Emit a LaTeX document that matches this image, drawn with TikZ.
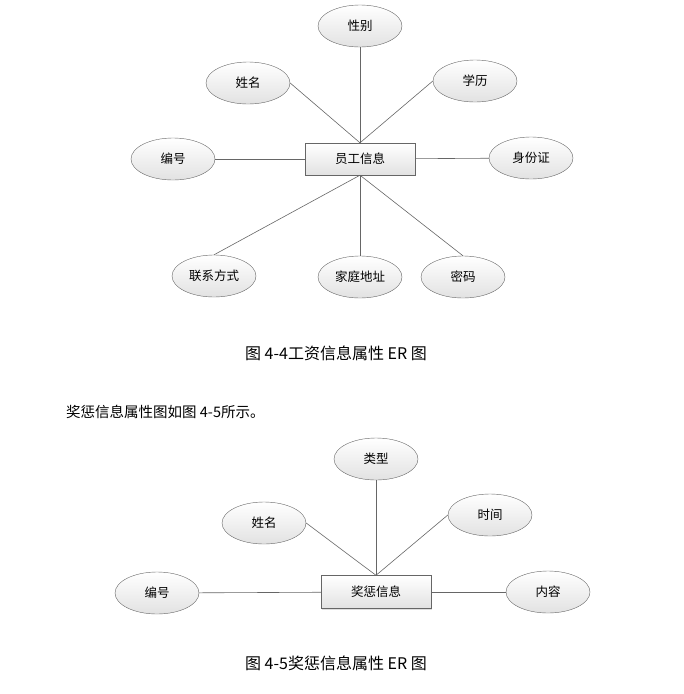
\documentclass[tikz,border=0pt]{standalone}
\usepackage{fontspec}
\setmainfont{Noto Sans CJK SC}
\usepackage{tikz}
\usetikzlibrary{shapes.geometric,shadows,positioning}
\definecolor{edge}{HTML}{666666}
\definecolor{shade}{HTML}{E2E2E2}
\tikzset{
  attr_oval/.style={ellipse,draw=edge,top color=white,bottom color=shade,
    minimum width=84pt,minimum height=42pt,inner sep=0pt,font=\fontsize{12.5}{14}\selectfont},
  ent_box/.style={rectangle,draw=edge,top color=white,bottom color=shade,
    minimum width=110pt,minimum height=32pt,inner sep=0pt,font=\fontsize{12.5}{14}\selectfont,
    drop shadow={opacity=0.25,shadow xshift=1.2pt,shadow yshift=-1.2pt}},
  cap_txt/.style={inner sep=0pt,font=\fontsize{16}{18}\selectfont},
  link/.style={draw=edge,line width=0.6pt},
}

\begin{document}
\begin{tikzpicture}[x=1pt,y=-1pt]
  \useasboundingbox (0,0) rectangle (684,694);

  % figure 4-4
  \node[ent_box] (emp) at (360,159) {员工信息};
  \node[attr_oval] (sex) at (360,26) {性别};
  \node[attr_oval] (name) at (248,83) {姓名};
  \node[attr_oval] (edu) at (475,81) {学历};
  \node[attr_oval] (num) at (173,159) {编号};
  \node[attr_oval] (card) at (531,158) {身份证};
  \node[attr_oval] (tel) at (214,276) {联系方式};
  \node[attr_oval] (addr) at (360,277) {家庭地址};
  \node[attr_oval] (pwd) at (463,277) {密码};
  \node[cap_txt] (cap1) at (336,353) {图 4-4工资信息属性 ER 图};

  \draw[link](sex)--(emp.north);\draw[link](name.east)--(emp.north);\draw[link](edu.west)--(emp.north);
  \draw[link](num)--(emp);\draw[link](emp)--(card);
  \draw[link](emp.south)--(tel.north);\draw[link](emp.south)--(addr.north);\draw[link](emp.south)--(pwd.north);

  \node[cap_txt,anchor=west,font=\fontsize{14.5}{16}\selectfont] (intro) at (66,412) {奖惩信息属性图如图 4-5所示。};

  % figure 4-5
  \node[ent_box,minimum height=33pt] (rew) at (376,592) {奖惩信息};
  \node[attr_oval] (kind) at (376,459) {类型};
  \node[attr_oval] (name2) at (264,523) {姓名};
  \node[attr_oval] (time) at (490,515) {时间};
  \node[attr_oval] (num2) at (157,593) {编号};
  \node[attr_oval] (cont) at (548,592) {内容};
  \node[cap_txt] (cap2) at (336,663) {图 4-5奖惩信息属性 ER 图};

  \draw[link](kind)--(rew.north);\draw[link](name2.east)--(rew.north);\draw[link](time.west)--(rew.north);
  \draw[link](num2)--(rew);\draw[link](rew)--(cont);
\end{tikzpicture}
\end{document}
